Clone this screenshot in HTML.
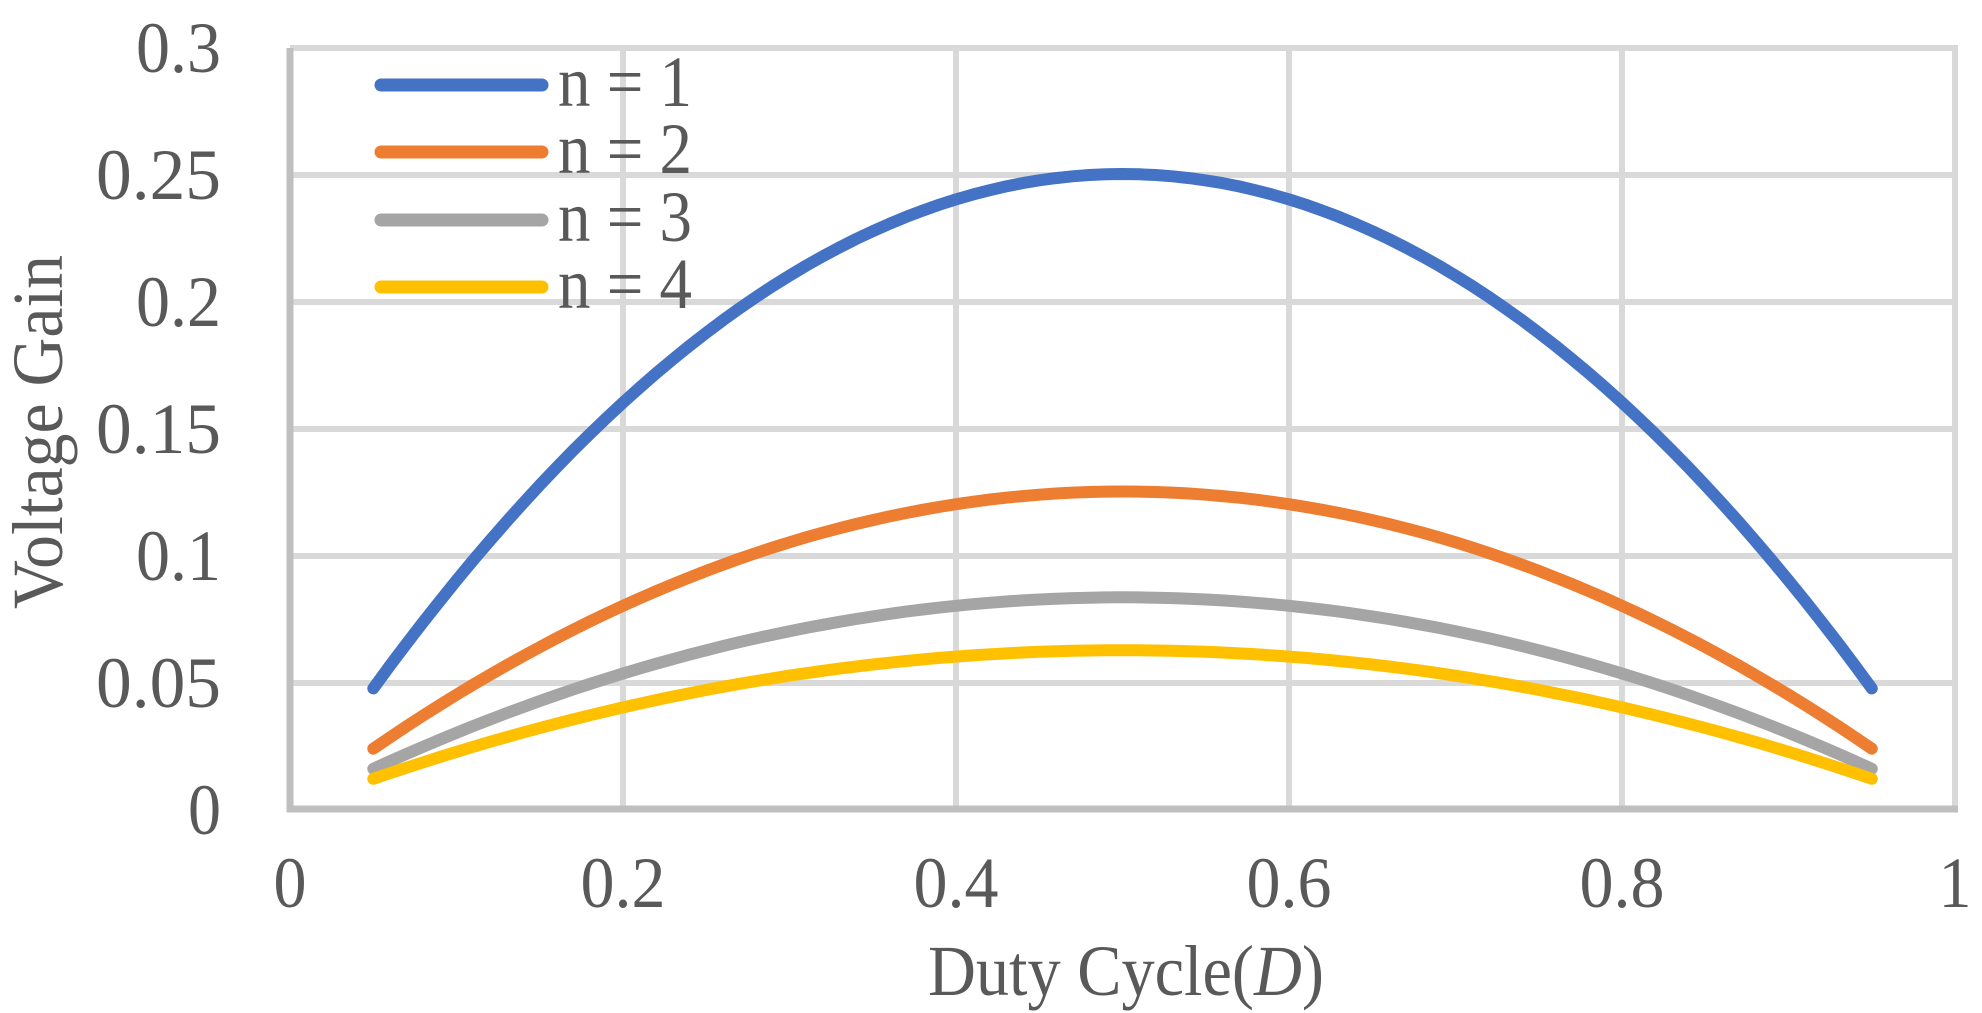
<!DOCTYPE html>
<html><head><meta charset="utf-8"><style>
html,body{margin:0;padding:0;background:#fff;}
svg{display:block;}
text{font-family:"Liberation Serif","Times New Roman","Nimbus Roman",serif;fill:#595959;}
</style></head><body>
<svg id="s" width="1982" height="1013" viewBox="0 0 1982 1013" xmlns="http://www.w3.org/2000/svg">
<g stroke="#D9D9D9" stroke-width="6">
<line x1="290" y1="48" x2="1958" y2="48"/>
<line x1="290" y1="175" x2="1958" y2="175"/>
<line x1="290" y1="302" x2="1958" y2="302"/>
<line x1="290" y1="429" x2="1958" y2="429"/>
<line x1="290" y1="556" x2="1958" y2="556"/>
<line x1="290" y1="683" x2="1958" y2="683"/>
<line x1="623" y1="48" x2="623" y2="809"/>
<line x1="956" y1="48" x2="956" y2="809"/>
<line x1="1289" y1="48" x2="1289" y2="809"/>
<line x1="1622" y1="48" x2="1622" y2="809"/>
<line x1="1955" y1="48" x2="1955" y2="809"/>
</g>
<g stroke="#BFBFBF" stroke-width="7">
<line x1="290" y1="48" x2="290" y2="812"/>
<line x1="287" y1="809" x2="1958" y2="809"/>
</g>
<g font-size="72" text-anchor="end" lengthAdjust="spacingAndGlyphs">
<text x="221" y="72" textLength="85" lengthAdjust="spacingAndGlyphs">0.3</text>
<text x="221" y="199" textLength="125" lengthAdjust="spacingAndGlyphs">0.25</text>
<text x="221" y="326" textLength="85" lengthAdjust="spacingAndGlyphs">0.2</text>
<text x="221" y="453" textLength="125" lengthAdjust="spacingAndGlyphs">0.15</text>
<text x="221" y="580" textLength="85" lengthAdjust="spacingAndGlyphs">0.1</text>
<text x="221" y="707" textLength="125" lengthAdjust="spacingAndGlyphs">0.05</text>
<text x="221" y="834" textLength="33" lengthAdjust="spacingAndGlyphs">0</text>
</g>
<g font-size="72" text-anchor="middle">
<text x="290" y="907" textLength="33" lengthAdjust="spacingAndGlyphs">0</text>
<text x="623" y="907" textLength="85" lengthAdjust="spacingAndGlyphs">0.2</text>
<text x="956" y="907" textLength="85" lengthAdjust="spacingAndGlyphs">0.4</text>
<text x="1289" y="907" textLength="85" lengthAdjust="spacingAndGlyphs">0.6</text>
<text x="1622" y="907" textLength="85" lengthAdjust="spacingAndGlyphs">0.8</text>
<text x="1955" y="907" textLength="33" lengthAdjust="spacingAndGlyphs">1</text>
<text x="1126" y="995" textLength="396" lengthAdjust="spacingAndGlyphs">Duty Cycle(<tspan font-style="italic">D</tspan>)</text>
<text transform="translate(62,432) rotate(-90)" textLength="354" lengthAdjust="spacingAndGlyphs">Voltage Gain</text>
</g>
<g id="series" fill="none" stroke-width="12" stroke-linecap="round" stroke-linejoin="round"></g>
<g stroke-width="13" stroke-linecap="round">
<line x1="381" y1="85" x2="542" y2="85" stroke="#4472C4"/>
<line x1="381" y1="152" x2="542" y2="152" stroke="#ED7D31"/>
<line x1="381" y1="220" x2="542" y2="220" stroke="#A5A5A5"/>
<line x1="381" y1="287" x2="542" y2="287" stroke="#FFC000"/>
</g>
<g font-size="72">
<text x="558" y="106" textLength="134" lengthAdjust="spacingAndGlyphs">n = 1</text>
<text x="558" y="173" textLength="134" lengthAdjust="spacingAndGlyphs">n = 2</text>
<text x="558" y="241" textLength="134" lengthAdjust="spacingAndGlyphs">n = 3</text>
<text x="558" y="308" textLength="134" lengthAdjust="spacingAndGlyphs">n = 4</text>
</g>
</svg>
<script>
var cols=["#4472C4","#ED7D31","#A5A5A5","#FFC000"],g=document.getElementById("series");
for(var n=1;n<=4;n++){var d="";for(var i=0;i<=90;i++){var D=0.05+i*0.01;var v=D*(1-D)/n;var x=290+D*1665,y=809-v*2540;d+=(i?"L":"M")+x.toFixed(1)+" "+y.toFixed(1);}
var p=document.createElementNS("http://www.w3.org/2000/svg","path");p.setAttribute("d",d);p.setAttribute("stroke",cols[n-1]);g.appendChild(p);}
</script>
</body></html>
